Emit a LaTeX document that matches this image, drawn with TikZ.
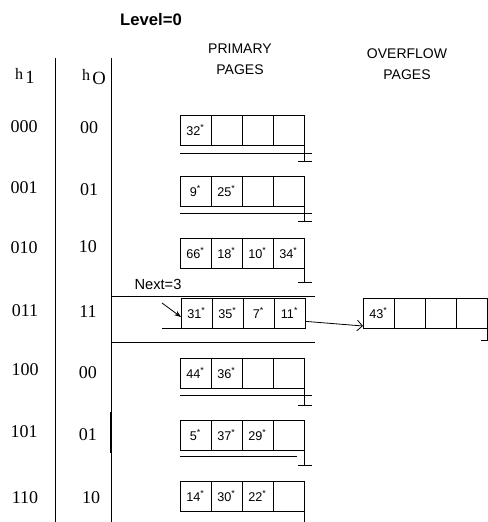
\documentclass[tikz,border=0pt]{standalone}
\usepackage{fontspec}
\setmainfont{Liberation Serif}
\setsansfont{Liberation Sans}
\usetikzlibrary{arrows.meta,positioning,calc}

\tikzset{
  cell/.style={draw, minimum width=23.25pt, minimum height=22.5pt, inner sep=0pt, outer sep=0pt,
    font=\sffamily\fontsize{9.5}{11}\selectfont},
  bits/.style={font=\fontsize{13.5}{15}\selectfont},
  caption/.style={font=\sffamily\fontsize{10.5}{16}\selectfont, align=center},
}
\newcommand{\rec}[1]{#1\textsuperscript{*}}
% name, x, y (top left), four entries
\newcommand{\bucket}[7]{%
  \node[cell, anchor=north west] (#1a) at (#2,#3) {#4};
  \node[cell, right=0pt of #1a] (#1b) {#5};
  \node[cell, right=0pt of #1b] (#1c) {#6};
  \node[cell, right=0pt of #1c] (#1d) {#7};
}
% end of chain: node, length
\newcommand{\nullptr}[2]{%
  \draw (#1.south east) -- ++(0,#2) coordinate (#1-gnd);
  \draw ($(#1-gnd)+(-6,0)$) -- ($(#1-gnd)+(8,0)$);
}

\begin{document}
\begin{tikzpicture}[x=0.75pt, y=-0.75pt, line width=0.6pt]
    \useasboundingbox (0,0) rectangle (488,522);

    % Headers
    \node[font=\sffamily\bfseries\fontsize{12.5}{15}\selectfont] (level) at (151,20) {Level=0};
    \node[caption] (prim) at (240,59) {PRIMARY\\PAGES};
    \node[caption] (over) at (407,64) {OVERFLOW\\PAGES};
    \node (hone) at (25,76) {{\fontsize{12}{14}\selectfont h}\,\raisebox{-0.6ex}{\fontsize{14}{16}\selectfont 1}};
    \node (hzero) at (94,77) {{\fontsize{12}{14}\selectfont h}\,\raisebox{-0.6ex}{\fontsize{14}{16}\selectfont O}};

    % Directory columns
    \draw (55,58) -- (55,522);
    \draw (111,58) -- (111,522);
    \draw[line width=1.3pt] (111,412) -- (111,453);

    \node[bits] (a0) at (24,127) {000};
    \node[bits] (a1) at (24,188) {001};
    \node[bits] (a2) at (24,248) {010};
    \node[bits] (a3) at (25,311) {011};
    \node[bits] (a4) at (25,370) {100};
    \node[bits] (a5) at (24,432) {101};
    \node[bits] (a6) at (25,498) {110};

    \node[bits] (b0) at (89,128) {00};
    \node[bits] (b1) at (89,190) {01};
    \node[bits] (b2) at (88,247) {10};
    \node[bits] (b3) at (88,312) {11};
    \node[bits] (b4) at (88,373) {00};
    \node[bits] (b5) at (88,435) {01};
    \node[bits] (b6) at (91,498) {10};

    % Primary pages
    \bucket{p0}{180}{115}{\rec{32}}{}{}{}
    \bucket{p1}{180}{176}{\rec{9}}{\rec{25}}{}{}
    \bucket{p2}{180}{238}{\rec{66}}{\rec{18}}{\rec{10}}{\rec{34}}
    \bucket{p3}{181}{298}{\rec{31}}{\rec{35}}{\rec{7}}{\rec{11}}
    \bucket{p4}{180}{358}{\rec{44}}{\rec{36}}{}{}
    \bucket{p5}{180}{420}{\rec{5}}{\rec{37}}{\rec{29}}{}
    \bucket{p6}{180}{481}{\rec{14}}{\rec{30}}{\rec{22}}{}

    % Overflow page
    \bucket{o3}{363}{298}{\rec{43}}{}{}{}

    % Underlines and end of chains
    \draw ($(p0a.south west)+(0,8)$) -- ($(p0d.south east)+(8,8)$);
    \draw ($(p1a.south west)+(0,7)$) -- ($(p1d.south east)+(8,7)$);
    \draw ($(p4a.south west)+(0,7)$) -- ($(p4d.south east)+(8,7)$);
    \draw ($(p5a.south west)+(0,6)$) -- ($(p5d.south east)+(-7,6)$);
    \nullptr{p0d}{16}
    \nullptr{p1d}{15}
    \nullptr{p2d}{14}
    \nullptr{p4d}{17}
    \nullptr{p5d}{15}
    \draw (p6d.south east) -- ++(0,12);
    \nullptr{o3d}{12}

    % Split bucket
    \draw (111,296) -- (315,296);
    \draw (111,342) -- (315,342);
    \draw (162,328) -- (p3a.south west);
    \node[font=\sffamily\fontsize{11}{13}\selectfont] (next) at (158,284) {Next=3};
    \coordinate (nexttail) at (162,303);
    \draw[-{Stealth[length=5pt]}] (nexttail) -- ([yshift=-3pt]p3a.west);
    \draw[-{Straight Barb[length=4pt]}] ([yshift=5pt]p3d.south east) -- ([yshift=1.5pt]o3a.south west);
\end{tikzpicture}
\end{document}
